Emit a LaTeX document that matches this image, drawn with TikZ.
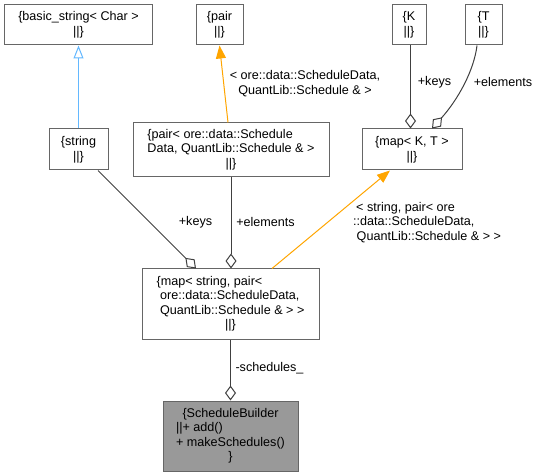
\documentclass[tikz,border=0pt]{standalone}
\usepackage{fontspec}
\setmainfont{Liberation Sans}
\usetikzlibrary{arrows.meta,calc}
\definecolor{boxline}{HTML}{666666}
\definecolor{edgegray}{HTML}{404040}
\definecolor{inhblue}{HTML}{63B8FF}
\definecolor{tmplorange}{HTML}{FFA500}
\definecolor{sbfill}{HTML}{999999}
\begin{document}
\begin{tikzpicture}[x=1bp,y=-1bp,
  every node/.style={font=\fontsize{12.6bp}{14.6bp}\selectfont, inner sep=0pt},
  cls/.style={draw=boxline, line width=1bp, fill=white, rectangle, align=center},
  lbl/.style={align=center},
  agg/.style={draw=edgegray, line width=1bp, -{Diamond[length=15bp, width=11bp, fill=white]}},
  inh/.style={draw=inhblue, line width=1bp, -{Triangle[length=13bp, width=10bp, fill=white]}},
  tmpl/.style={draw=tmplorange, line width=1bp, -{Triangle[length=13bp, width=10bp]}}]
\useasboundingbox (0,0) rectangle (540,476);

\node[cls, minimum width=147bp, minimum height=40bp] (bs) at (78.5,25) {\{basic\_string< Char >\\||\}};
\node[cls, minimum width=47bp, minimum height=40bp] (pair) at (219.5,25) {\{pair\\||\}};
\node[cls, minimum width=34bp, minimum height=40bp] (K) at (409,25) {\{K\\||\}};
\node[cls, minimum width=37bp, minimum height=40bp] (T) at (483.5,25) {\{T\\||\}};
\node[cls, minimum width=59bp, minimum height=41bp] (str) at (78.5,149.5) {\{string\\||\}};
\node[cls, minimum width=196bp, minimum height=54bp] (pairore) at (231,150) {\begin{tabular}{@{}l@{}}\{pair< ore::data::Schedule\\Data, QuantLib::Schedule \& >\\\multicolumn{1}{@{}c@{}}{||\}}\end{tabular}};
\node[cls, minimum width=100bp, minimum height=41bp] (mapKT) at (412,149.5) {\{map< K, T >\\||\}};
\node[cls, minimum width=177bp, minimum height=70bp] (mainmap) at (230.5,304) {\begin{tabular}{@{}l@{}}\{map< string, pair<\\\ ore::data::ScheduleData,\\\ QuantLib::Schedule \& > >\\\multicolumn{1}{@{}c@{}}{||\}}\end{tabular}};
\node[cls, fill=sbfill, minimum width=135bp, minimum height=70bp] (sb) at (230.5,436) {\begin{tabular}{@{}l@{}}\multicolumn{1}{@{}c@{}}{\{ScheduleBuilder}\\||+ add()\\+ makeSchedules()\\\multicolumn{1}{@{}c@{}}{\}}\end{tabular}};

\draw[inh] (str.north) -- (bs.south);
\draw[tmpl] ($(pairore.north)+(-3,0)$) -- (pair.south);
\draw[agg] ($(K.south)+(1.5,0)$) -- ($(K.south |- mapKT.north)+(1.5,0)$);
\draw[agg] ($(T.south)+(-6.5,0)$) .. controls ($(T.south)+(-9.5,25)$) and ($(mapKT.north)+(46,-29)$) .. ($(mapKT.north)+(20,0)$);
\draw[tmpl] ($(mainmap.north)+(41.5,0)$) -- ($(mapKT.south)+(-22,0)$);
\draw[agg] ($(str.south)+(19.5,0)$) -- ($(mainmap.north)+(-34.5,0)$);
\draw[agg] (pairore.south) -- (pairore.south |- mainmap.north);
\draw[agg] (mainmap.south) -- (sb.north);

\node[lbl] (l1) at (305,83.5) {< ore::data::ScheduleData,\\ QuantLib::Schedule \& >};
\node[lbl] (l2) at (434.5,82) {+keys};
\node[lbl] (l3) at (503,82) {+elements};
\node[lbl] (l4) at (195.5,222) {+keys};
\node[lbl] (l5) at (265.5,222) {+elements};
\node[lbl, align=left, anchor=west] (l6) at (353,222.5) {\hspace*{3bp}< string, pair< ore\\::data::ScheduleData,\\\hspace*{3.5bp}QuantLib::Schedule \& > >};
\node[lbl] (l7) at (269.5,368) {-schedules\_};
\end{tikzpicture}
\end{document}
